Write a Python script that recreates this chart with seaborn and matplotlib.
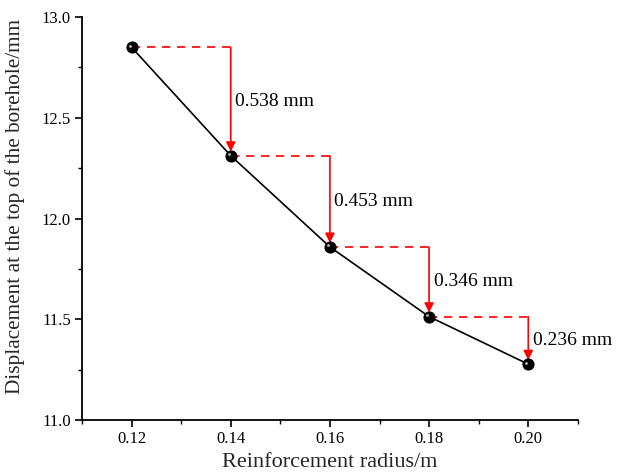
import matplotlib
matplotlib.use("Agg")
import matplotlib.pyplot as plt
import seaborn as sns
import pandas as pd
from matplotlib.ticker import MultipleLocator

radius = [0.12, 0.14, 0.16, 0.18, 0.20]
displacement = [12.850, 12.312, 11.859, 11.513, 11.277]
drop_labels = ["0.538 mm", "0.453 mm", "0.346 mm", "0.236 mm"]

sns.set_theme(style="ticks")
plt.rcParams['font.family'] = ['Liberation Serif', 'DejaVu Serif']

fig = plt.figure(figsize=(6.18, 4.75), dpi=100)
ax = fig.add_axes([0.1327, 0.1158, 0.8023, 0.8482])

df = pd.DataFrame({"r": radius, "d": displacement})
sns.lineplot(data=df, x="r", y="d", ax=ax, color="black", linewidth=1.2,
             marker="o", markersize=8, markerfacecolor="black",
             markeredgecolor="black", zorder=3)
# highlight on spheres
ax.scatter(df["r"] - 0.0004, df["d"] + 0.008, s=4, color="#bbbbbb", zorder=4, linewidths=0)

for i in range(len(radius) - 1):
    x0, y0 = radius[i], displacement[i]
    x1, y1 = radius[i + 1], displacement[i + 1]
    ax.plot([x0, x1], [y0, y0], color="red", linestyle=(0, (5, 4)), linewidth=1.2, zorder=2)
    ax.annotate("", xy=(x1, y1 + 0.02), xytext=(x1, y0),
                arrowprops=dict(arrowstyle="-|>", color="red", lw=1.2,
                                mutation_scale=14, shrinkA=0, shrinkB=0), zorder=2)
    ax.text(x1 + 0.0009, (y0 + y1) / 2, drop_labels[i], fontsize=14,
            va="center", ha="left", color="black")

ax.set_xlim(0.11, 0.21)
ax.set_ylim(11.0, 13.0)
ax.xaxis.set_major_locator(MultipleLocator(0.02))
ax.xaxis.set_minor_locator(MultipleLocator(0.01))
ax.yaxis.set_major_locator(MultipleLocator(0.5))
ax.yaxis.set_minor_locator(MultipleLocator(0.25))
ax.set_xticks(radius)
ax.set_xticklabels([f"{v:.2f}" for v in radius])
ax.set_yticklabels([f"{v:.1f}" for v in ax.get_yticks()])

for s in ["top", "right"]:
    ax.spines[s].set_visible(False)
for s in ["left", "bottom"]:
    ax.spines[s].set_linewidth(1.3)
    ax.spines[s].set_color("black")
ax.tick_params(which="major", direction="out", length=5, width=1.2, labelsize=12,
               colors="black", pad=3)
ax.tick_params(which="minor", direction="out", length=3, width=1.0, colors="black")

ax.set_xlabel("Reinforcement radius/m", fontsize=16, labelpad=4)
ax.set_ylabel("Displacement at the top of the borehole/mm", fontsize=15.3)
ax.yaxis.set_label_coords(-0.115, 0.531)

fig.savefig("out.png", dpi=100)
